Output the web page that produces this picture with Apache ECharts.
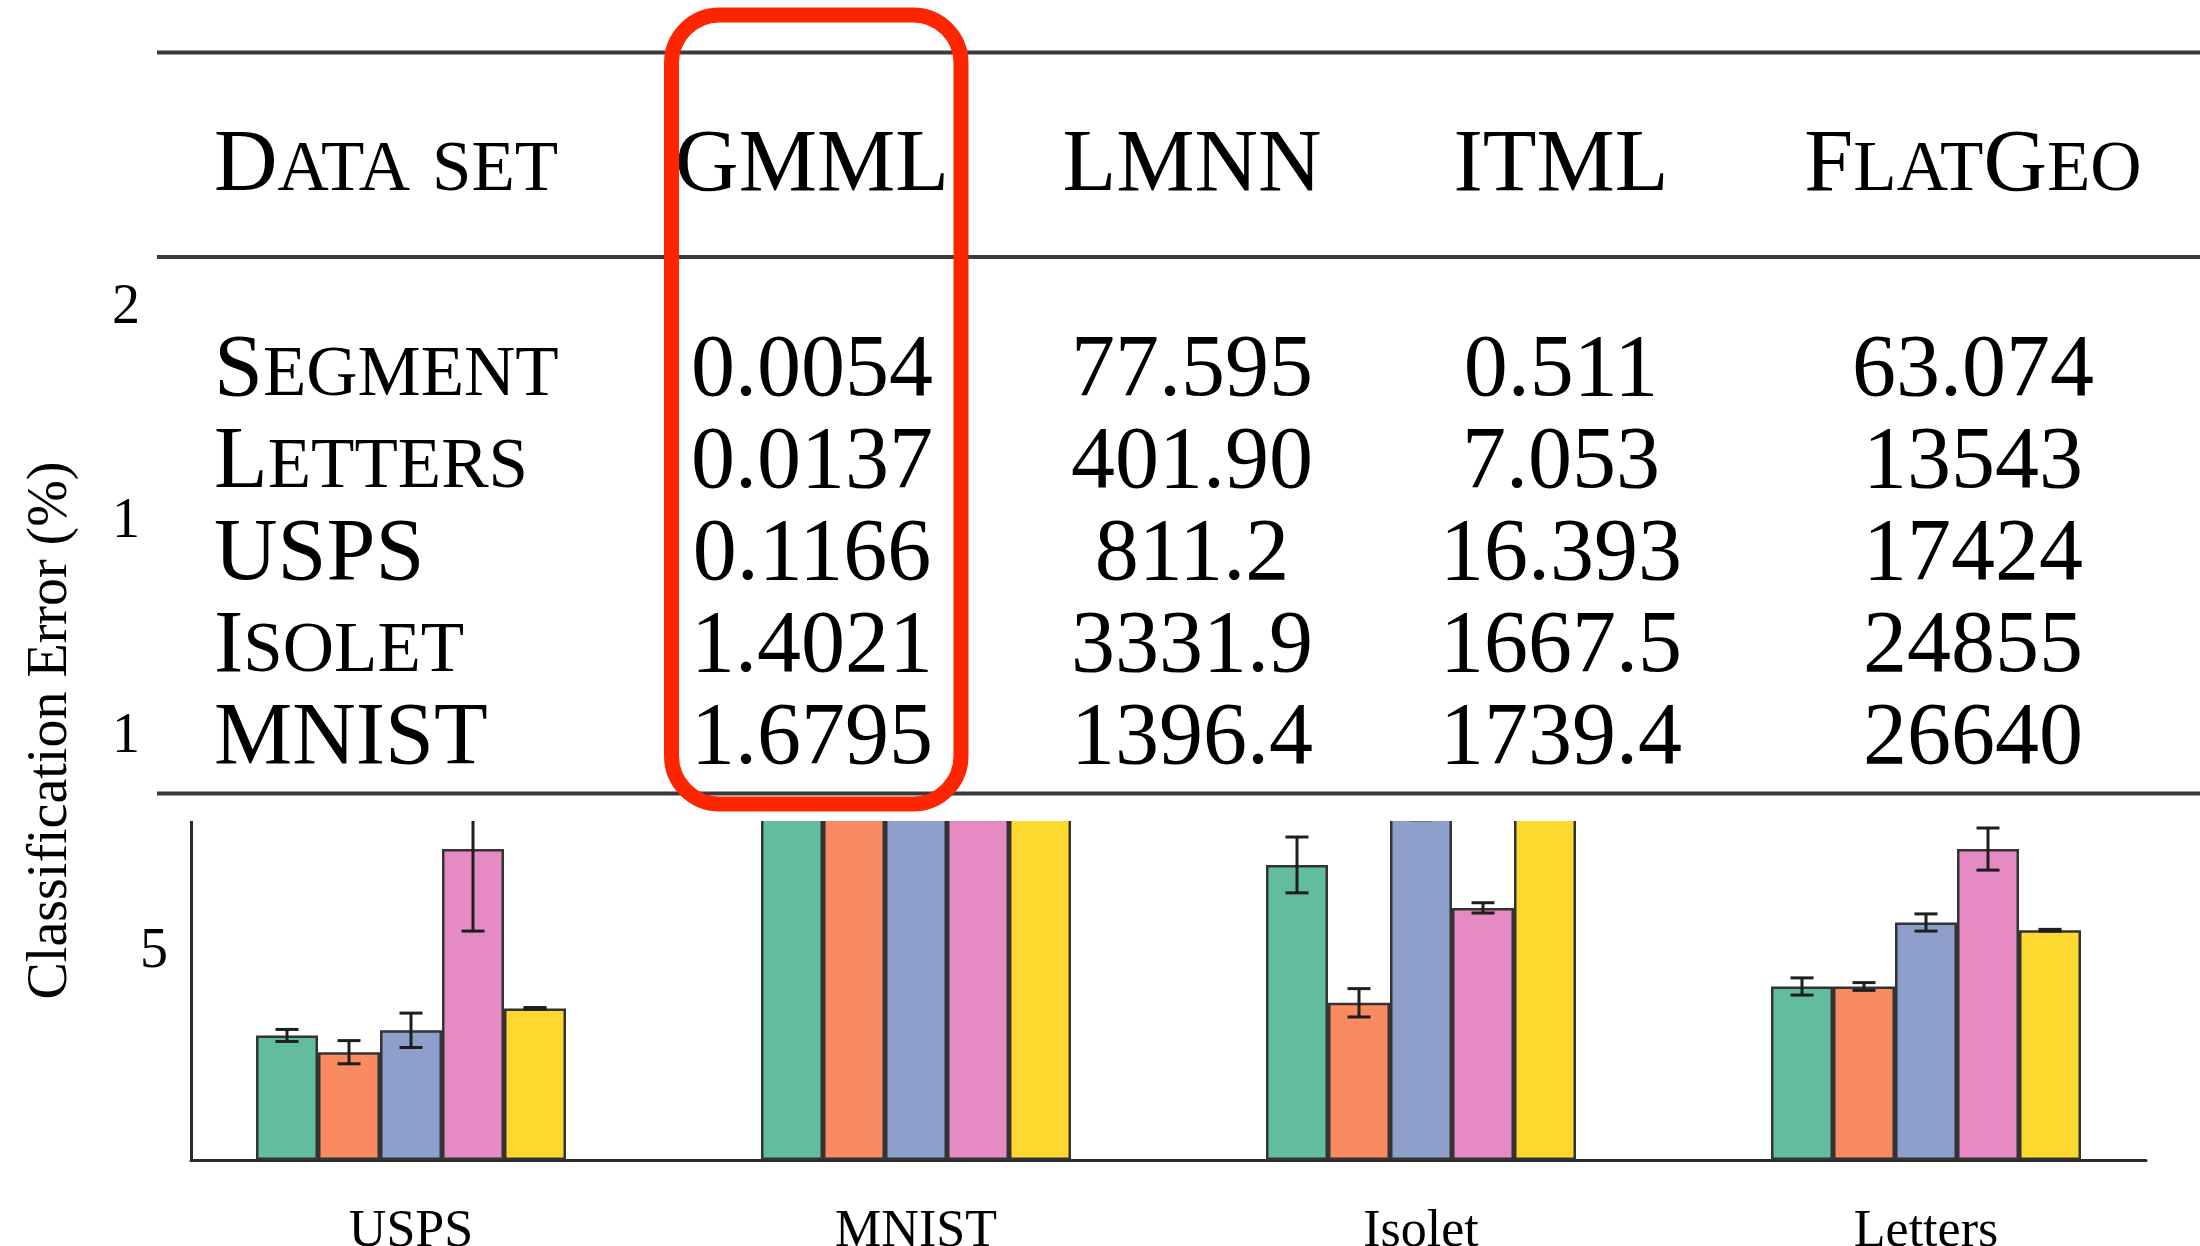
<!DOCTYPE html>
<html>
<head>
<meta charset="utf-8">
<title>Classification error and training time</title>
<script src="https://cdn.jsdelivr.net/npm/echarts@6/dist/echarts.min.js"></script>
<style>
  html, body { margin: 0; padding: 0; background: #fff; }
  #chart { width: 2200px; height: 1246px; }
</style>
</head>
<body>
<div id="chart"></div>
<script>
// ---- bar chart data: classification error (%) per data set ----
const categories = ['USPS', 'MNIST', 'Isolet', 'Letters'];
const methodNames = ['Method 1', 'Method 2', 'Method 3', 'Method 4', 'Method 5'];
const method1Error = [2.90, 10.6, 6.87, 4.04];
const method2Error = [2.51, 12.4, 3.66, 4.04];
const method3Error = [3.02, 10.1, 8.45, 5.53];
const method4Error = [7.24, 13.2, 5.87, 7.24];
const method5Error = [3.53, 11.7, 9.9, 5.35];
// half-length of each error bar (null = no bar drawn)
const method1Spread = [0.14, null, 0.65, 0.20];
const method2Spread = [0.27, null, 0.33, 0.09];
const method3Spread = [0.40, null, 0.53, 0.20];
const method4Spread = [1.91, null, 0.12, 0.49];
const method5Spread = [0.02, null, null, 0.02];
const yTicks = [0, 5, 10, 15, 20];

// ---- table data: running time per data set ----
const tableHeaders = ['Data set', 'GMML', 'LMNN', 'ITML', 'FlatGeo'];
const datasetNames = ['Segment', 'Letters', 'USPS', 'Isolet', 'MNIST'];
const gmmlTimes = ['0.0054', '0.0137', '0.1166', '1.4021', '1.6795'];
const lmnnTimes = ['77.595', '401.90', '811.2', '3331.9', '1396.4'];
const itmlTimes = ['0.511', '7.053', '16.393', '1667.5', '1739.4'];
const flatGeoTimes = ['63.074', '13543', '17424', '24855', '26640'];

const errors = [method1Error, method2Error, method3Error, method4Error, method5Error];
const spreads = [method1Spread, method2Spread, method3Spread, method4Spread, method5Spread];
const colors = ['#62bd9f', '#fa8b60', '#8d9fca', '#e68ac3', '#fdd82f'];

const SERIF = '"Liberation Serif", "Times New Roman", serif';
const BAR_WIDTH = 62;
const CAP_WIDTH = 23;

// ---------- table layout helpers ----------
const measureCtx = document.createElement('canvas').getContext('2d');
function textWidth(str, size) {
  measureCtx.font = size + 'px ' + SERIF;
  return measureCtx.measureText(str).width;
}
const BIG = 88, SMALL = 71;
// split into runs: capitals at full size, lower case as small capitals
function smallCapsRuns(str) {
  const runs = [];
  for (const ch of str) {
    const small = ch !== ch.toUpperCase();
    const t = small ? ch.toUpperCase() : ch;
    const last = runs[runs.length - 1];
    if (last && last.small === small) last.text += t;
    else runs.push({ small: small, text: t });
  }
  return runs;
}
function cellText(str, anchorX, align, baseline, z) {
  const runs = smallCapsRuns(str).map(r => {
    const size = r.small ? SMALL : BIG;
    return { text: r.text, size: size, w: textWidth(r.text, size) };
  });
  const total = runs.reduce((s, r) => s + r.w, 0);
  let x = align === 'center' ? anchorX - total / 2 : anchorX;
  return runs.map(r => {
    const el = {
      type: 'text', z: z, silent: true,
      style: {
        text: r.text, x: x, y: baseline - 0.27 * r.size,
        fontSize: r.size, fontFamily: SERIF, fill: '#000',
        align: 'left', verticalAlign: 'middle'
      }
    };
    x += r.w;
    return el;
  });
}

const graphics = [];
// white panel of the table
graphics.push({ type: 'rect', z: 100, silent: true,
  shape: { x: 140, y: 0, width: 2060, height: 821 }, style: { fill: '#fff' } });
// horizontal rules
[52.5, 257, 793.5].forEach(y => {
  graphics.push({ type: 'line', z: 101, silent: true,
    shape: { x1: 157, y1: y, x2: 2200, y2: y },
    style: { stroke: '#3a3a3a', lineWidth: 4 } });
});
const colAnchors = [214, 812, 1192, 1561, 1973];
const colAlign = ['left', 'center', 'center', 'center', 'center'];
tableHeaders.forEach((h, i) => {
  graphics.push(...cellText(h, colAnchors[i], colAlign[i], 191, 102));
});
const columns = [datasetNames, gmmlTimes, lmnnTimes, itmlTimes, flatGeoTimes];
const rowBaselines = [396, 488, 580, 672, 764];
columns.forEach((col, c) => {
  col.forEach((v, r) => {
    graphics.push(...cellText(v, colAnchors[c], colAlign[c], rowBaselines[r], 102));
  });
});
// highlight around the GMML column
graphics.push({ type: 'rect', z: 103, silent: true,
  shape: { x: 671.5, y: 15, width: 289.5, height: 789, r: 48 },
  style: { fill: 'none', stroke: '#fe2600', lineWidth: 15 } });

// ---------- series ----------
const series = [];
errors.forEach((vals, i) => {
  series.push({
    name: methodNames[i], type: 'bar', xAxisIndex: 1, yAxisIndex: 1,
    data: vals, barWidth: BAR_WIDTH, barGap: '0%',
    itemStyle: { color: colors[i], borderColor: '#333', borderWidth: 2.5 },
    z: 2
  });
});
errors.forEach((vals, i) => {
  const items = [];
  vals.forEach((v, k) => { if (spreads[i][k] != null) items.push([k, v, spreads[i][k]]); });
  series.push({
    name: methodNames[i] + ' spread', type: 'custom', xAxisIndex: 1, yAxisIndex: 1,
    data: items, encode: { x: 0, y: 1 }, z: 4,
    renderItem: function (params, api) {
      const cat = api.value(0), val = api.value(1), err = api.value(2);
      const x = api.coord([cat, val])[0] + (i - 2) * BAR_WIDTH;
      const hi = api.coord([cat, val + err])[1];
      const lo = api.coord([cat, val - err])[1];
      const h = CAP_WIDTH / 2;
      const st = { stroke: '#1e1e1e', lineWidth: 3 };
      return { type: 'group', children: [
        { type: 'line', shape: { x1: x, y1: hi, x2: x, y2: lo }, style: st },
        { type: 'line', shape: { x1: x - h, y1: hi, x2: x + h, y2: hi }, style: st },
        { type: 'line', shape: { x1: x - h, y1: lo, x2: x + h, y2: lo }, style: st }
      ] };
    }
  });
});

const chart = echarts.init(document.getElementById('chart'), null, { renderer: 'canvas' });
chart.setOption({
  animation: false,
  backgroundColor: '#fff',
  grid: [
    { left: 191, right: 54, top: 301, bottom: 86, outerBoundsMode: 'none', containLabel: false },
    { left: 158.5, right: 21.5, top: 301, bottom: 86, outerBoundsMode: 'none', containLabel: false }
  ],
  xAxis: [
    { type: 'value', gridIndex: 0, min: 0, max: 1,
      axisLine: { show: true, lineStyle: { color: '#2a2a2a', width: 3 } },
      axisTick: { show: false }, axisLabel: { show: false }, splitLine: { show: false } },
    { type: 'category', gridIndex: 1, data: categories,
      axisLine: { show: false }, axisTick: { show: false }, splitLine: { show: false },
      axisLabel: { interval: 0, margin: 46, fontSize: 52, fontFamily: SERIF, color: '#000' } }
  ],
  yAxis: [
    { type: 'value', gridIndex: 0, min: yTicks[0], max: yTicks[yTicks.length - 1], interval: 5,
      name: 'Classification Error (%)', nameLocation: 'middle', nameRotate: 90, nameGap: 112,
      nameTextStyle: { fontSize: 56, fontFamily: SERIF, color: '#000' },
      axisLine: { show: true, lineStyle: { color: '#2a2a2a', width: 3 } },
      axisTick: { show: false }, splitLine: { show: false },
      axisLabel: { showMinLabel: false, margin: 23, verticalAlign: 'top', lineHeight: 14,
        fontSize: 56, fontFamily: SERIF, color: '#000' } },
    { type: 'value', gridIndex: 1, min: yTicks[0], max: yTicks[yTicks.length - 1], interval: 5,
      show: false, splitLine: { show: false } }
  ],
  series: series,
  graphic: { elements: graphics }
});
</script>
</body>
</html>
